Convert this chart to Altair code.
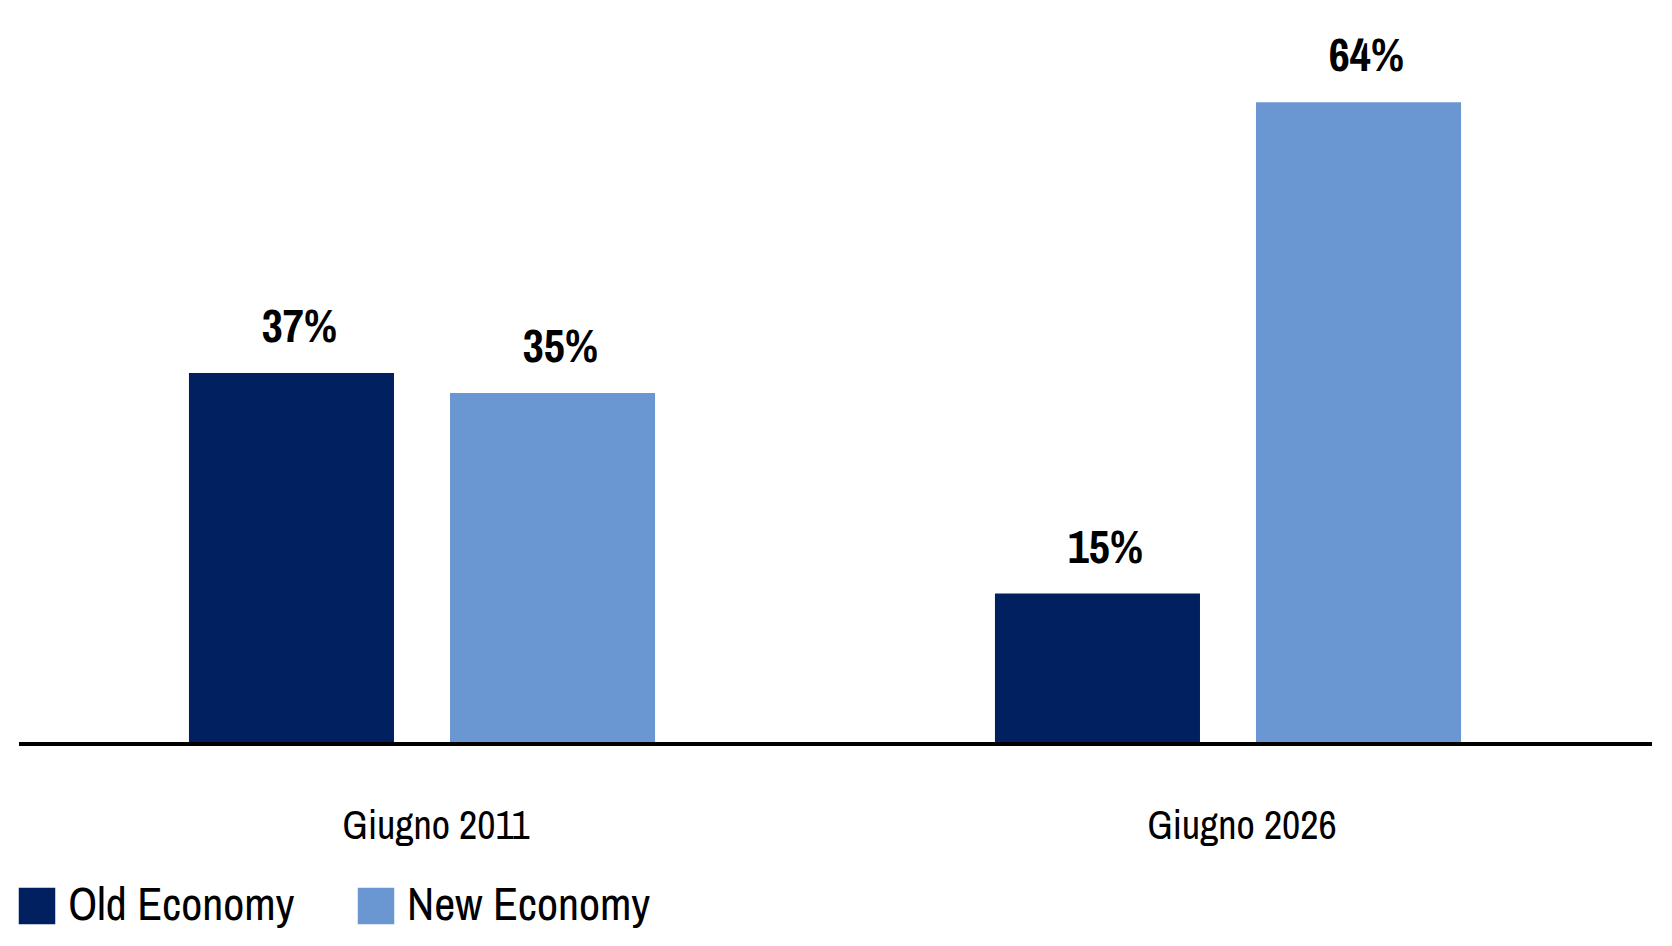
import altair as alt
import pandas as pd

periods = ["Giugno 2011", "Giugno 2011", "Giugno 2026", "Giugno 2026"]
series = ["Old Economy", "New Economy", "Old Economy", "New Economy"]
values = [37, 35, 15, 64]
labels = ["37%", "35%", "15%", "64%"]
period_order = ["Giugno 2011", "Giugno 2026"]
series_order = ["Old Economy", "New Economy"]
colors = ["#002060", "#6A96D2"]

FONT = "'Archivo Narrow', 'Roboto Condensed', sans-serif"

df = pd.DataFrame({"period": periods, "series": series, "value": values, "label": labels})

base = alt.Chart(df).encode(
    x=alt.X(
        "period:N",
        sort=period_order,
        scale=alt.Scale(paddingInner=0, paddingOuter=0),
        axis=alt.Axis(
            title=None, labelAngle=0, ticks=False, grid=False, domain=False,
            labelFont=FONT, labelFontSize=40, labelColor="black",
            labelBaseline="alphabetic", labelPadding=94, labelOffset=14,
            labelLimit=0,
        ),
    ),
    xOffset=alt.XOffset(
        "series:N", sort=series_order,
        scale=alt.Scale(paddingInner=0.2146, paddingOuter=0.651),
    ),
    y=alt.Y("value:Q", scale=alt.Scale(domain=[0, 70]), axis=None),
)

bars = base.mark_bar().encode(
    color=alt.Color(
        "series:N", sort=series_order,
        scale=alt.Scale(domain=series_order, range=colors),
        legend=alt.Legend(
            title=None, orient="none", legendX=-5, legendY=841,
            direction="horizontal", symbolType="square", symbolSize=1332,
            symbolStrokeWidth=0, symbolOpacity=1,
            labelFont=FONT, labelFontSize=46, labelColor="black",
            labelOffset=8, columnPadding=58, padding=0, labelLimit=0,
        ),
    )
)

text = base.mark_text(
    baseline="alphabetic", dy=-31, dx=8, font=FONT, fontWeight="bold",
    fontSize=46, color="black",
).encode(text="label:N")

baseline_rule = alt.Chart(pd.DataFrame({"zero": [0]})).mark_rule(
    color="black", strokeWidth=4
).encode(
    y=alt.Y("zero:Q", scale=alt.Scale(domain=[0, 70])),
    x=alt.value(0),
    x2=alt.value(1633),
)

chart = (
    alt.layer(bars, text, baseline_rule)
    .properties(
        width=1612, height=702,
        background="white",
        autosize=alt.AutoSizeParams(type="none"),
        padding={"left": 11, "top": 34, "right": 30, "bottom": 200},
    )
    .configure_view(stroke="transparent", strokeWidth=0)
)

chart.save("out.html", embed_options={"renderer": "svg", "actions": False})
